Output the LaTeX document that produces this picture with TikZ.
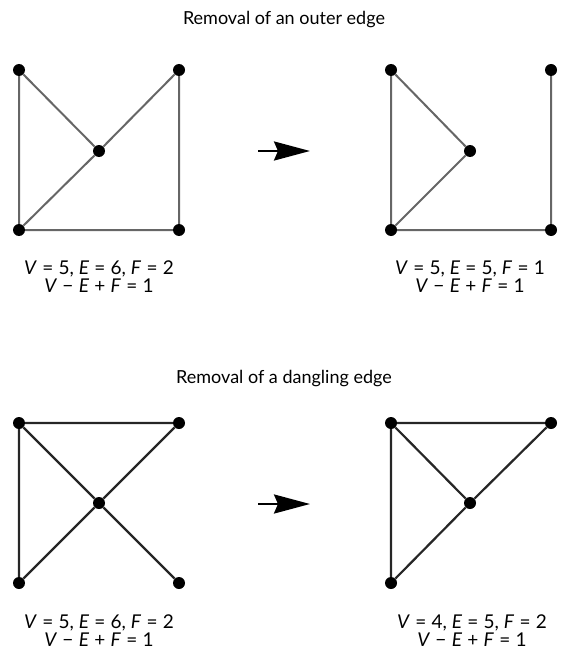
\documentclass[tikz,border=0pt]{standalone}
\usepackage{fontspec}
\setmainfont{Lato}
\usetikzlibrary{arrows.meta}
\begin{document}
\begin{tikzpicture}[x=1pt,y=-1pt,
  vtx/.style={circle,fill=black,inner sep=0pt,minimum size=12pt},
  topedge/.style={draw=black!60,line width=2pt},
  botedge/.style={draw=black!85,line width=2.2pt},
  title/.style={font=\fontsize{18}{20}\selectfont,inner sep=0pt},
  lab/.style={font=\fontsize{19}{18}\selectfont,align=center,inner sep=0pt},
  bigarrow/.style={line width=2.5pt,-{Stealth[length=36pt,width=19pt,inset=4pt]}}]
\useasboundingbox (0,0) rectangle (560,658);
% titles
\node[title] (t1) at (284,20) {Removal of an outer edge};
\node[title] (t2) at (284,379) {Removal of a dangling edge};
% top-left graph
\node[vtx] (a1) at (19,70) {};
\node[vtx] (a2) at (179,70) {};
\node[vtx] (a3) at (99,151) {};
\node[vtx] (a4) at (19,230) {};
\node[vtx] (a5) at (179,230) {};
\draw[topedge] (a1) -- (a4) -- (a5) -- (a2) -- (a3) -- (a1);
\draw[topedge] (a3) -- (a4);
% top-right graph
\node[vtx] (b1) at (391,70) {};
\node[vtx] (b2) at (551,70) {};
\node[vtx] (b3) at (470,151) {};
\node[vtx] (b4) at (391,230) {};
\node[vtx] (b5) at (551,230) {};
\draw[topedge] (b3) -- (b1) -- (b4) -- (b5) -- (b2);
\draw[topedge] (b3) -- (b4);
% bottom-left graph
\node[vtx] (c1) at (19,423) {};
\node[vtx] (c2) at (179,423) {};
\node[vtx] (c3) at (99,503) {};
\node[vtx] (c4) at (19,583) {};
\node[vtx] (c5) at (179,583) {};
\draw[botedge] (c2) -- (c1) -- (c4) -- (c3) -- (c2);
\draw[botedge] (c1) -- (c3) -- (c5);
% bottom-right graph
\node[vtx] (d1) at (391,423) {};
\node[vtx] (d2) at (551,423) {};
\node[vtx] (d3) at (470,503) {};
\node[vtx] (d4) at (391,583) {};
\draw[botedge] (d2) -- (d1) -- (d4) -- (d3) -- (d2);
\draw[botedge] (d1) -- (d3);
% arrows
\coordinate (p1) at (258,151);
\coordinate (q1) at (310,151);
\draw[bigarrow] (p1) -- (q1);
\coordinate (p2) at (258,504);
\coordinate (q2) at (310,504);
\draw[bigarrow] (p2) -- (q2);
% labels
\node[lab] (l1) at (99,277) {\textit{V}\;=\;5, \textit{E}\;=\;6, \textit{F}\;=\;2\\\textit{V}\;−\;\textit{E}\;+\;\textit{F}\;=\;1};
\node[lab] (l2) at (470,277) {\textit{V}\;=\;5, \textit{E}\;=\;5, \textit{F}\;=\;1\\\textit{V}\;−\;\textit{E}\;+\;\textit{F}\;=\;1};
\node[lab] (l3) at (99,631) {\textit{V}\;=\;5, \textit{E}\;=\;6, \textit{F}\;=\;2\\\textit{V}\;−\;\textit{E}\;+\;\textit{F}\;=\;1};
\node[lab] (l4) at (472,631) {\textit{V}\;=\;4, \textit{E}\;=\;5, \textit{F}\;=\;2\\\textit{V}\;−\;\textit{E}\;+\;\textit{F}\;=\;1};
\end{tikzpicture}
\end{document}
